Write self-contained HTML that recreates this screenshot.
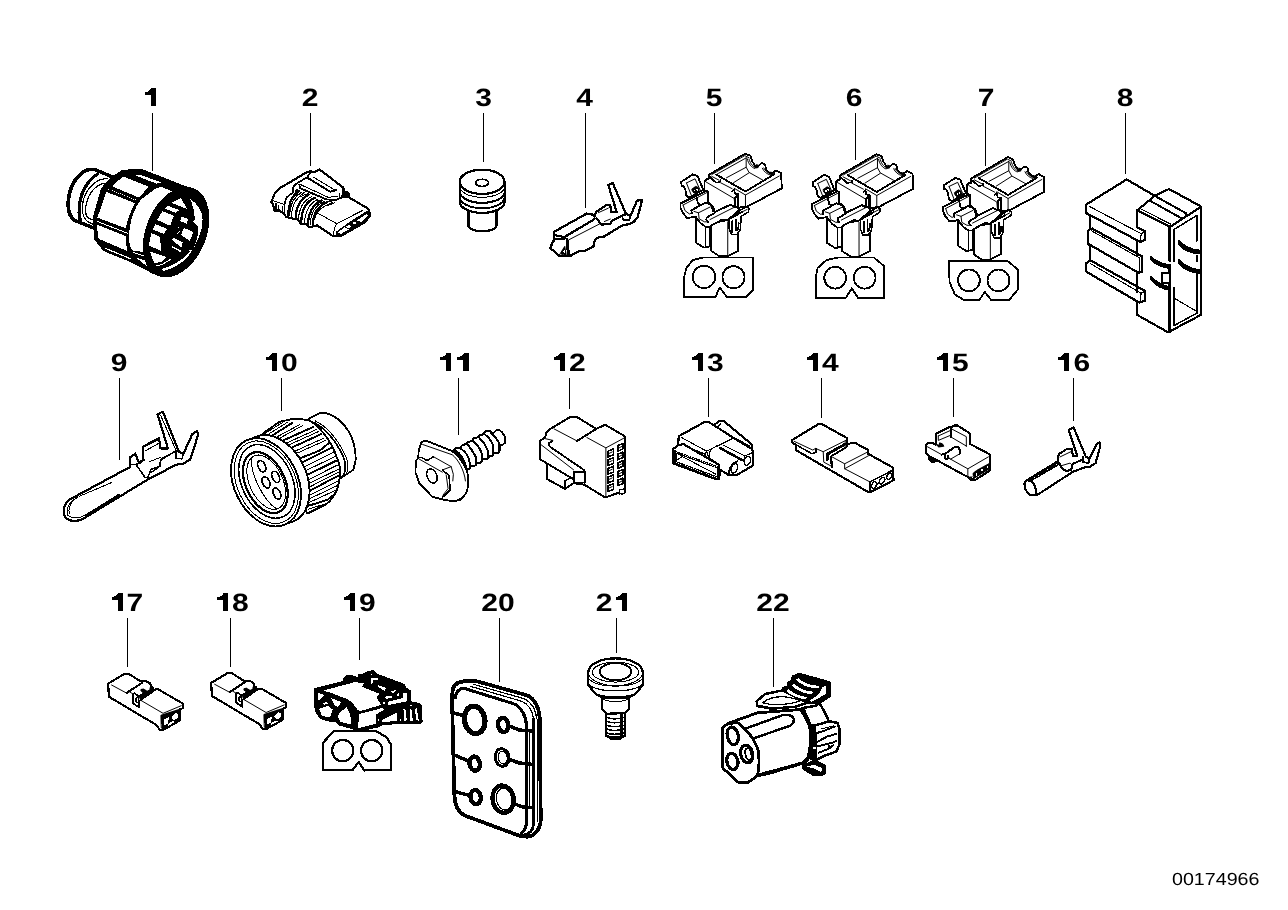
<!DOCTYPE html>
<html><head><meta charset="utf-8"><title>Diagram</title>
<style>
html,body{margin:0;padding:0;background:#fff;}
body{width:1288px;height:910px;overflow:hidden;font-family:"Liberation Sans",sans-serif;}
svg{display:block;will-change:transform;}
.k{fill:none;stroke:#000;stroke-linejoin:round;stroke-linecap:round;}
.w{fill:#fff;stroke:#000;stroke-linejoin:round;stroke-linecap:round;}
.b{fill:#000;stroke:#000;stroke-linejoin:round;stroke-linecap:round;}
.n{fill:#fff;stroke:none;}
text{font-family:"Liberation Sans",sans-serif;fill:#000;text-rendering:geometricPrecision;}
</style></head><body>
<svg width="1288" height="910" viewBox="0 0 1288 910" shape-rendering="crispEdges">
<rect width="1288" height="910" fill="#fff"/>
<g font-weight="bold" font-size="25" text-anchor="middle">
<text transform="translate(310,106) scale(1.2,1)">2</text>
<text transform="translate(483.5,106) scale(1.2,1)">3</text>
<text transform="translate(584.5,106) scale(1.2,1)">4</text>
<text transform="translate(714,106) scale(1.2,1)">5</text>
<text transform="translate(854,106) scale(1.2,1)">6</text>
<text transform="translate(986,106) scale(1.2,1)">7</text>
<text transform="translate(1125,106) scale(1.2,1)">8</text>
<text transform="translate(119,371) scale(1.2,1)">9</text>
<text transform="translate(289.34,371) scale(1.2,1)">0</text>
<text transform="translate(577.34,371) scale(1.2,1)">2</text>
<text transform="translate(715.34,371) scale(1.2,1)">3</text>
<text transform="translate(830.34,371) scale(1.2,1)">4</text>
<text transform="translate(960.34,371) scale(1.2,1)">5</text>
<text transform="translate(1081.84,371) scale(1.2,1)">6</text>
<text transform="translate(134.84,611) scale(1.2,1)">7</text>
<text transform="translate(240.34,611) scale(1.2,1)">8</text>
<text transform="translate(367.34,611) scale(1.2,1)">9</text>
<text transform="translate(498,611) scale(1.2,1)">20</text>
<text transform="translate(604.16,611) scale(1.2,1)">2</text>
<text transform="translate(773,611) scale(1.2,1)">22</text>
</g><g fill="#000"><path transform="translate(156.25,106.3)" d="M0,0H-5.1V-11.3H-11.1V-13.8C-8.5,-14.2 -5.8,-16 -4.4,-18.3H0Z"/><path transform="translate(277.2,371.3)" d="M0,0H-5.1V-11.3H-11.1V-13.8C-8.5,-14.2 -5.8,-16 -4.4,-18.3H0Z"/><path transform="translate(451.4,371.3)" d="M0,0H-5.1V-11.3H-11.1V-13.8C-8.5,-14.2 -5.8,-16 -4.4,-18.3H0Z"/><path transform="translate(468.5,371.3)" d="M0,0H-5.1V-11.3H-11.1V-13.8C-8.5,-14.2 -5.8,-16 -4.4,-18.3H0Z"/><path transform="translate(565.1,371.3)" d="M0,0H-5.1V-11.3H-11.1V-13.8C-8.5,-14.2 -5.8,-16 -4.4,-18.3H0Z"/><path transform="translate(702.8,371.3)" d="M0,0H-5.1V-11.3H-11.1V-13.8C-8.5,-14.2 -5.8,-16 -4.4,-18.3H0Z"/><path transform="translate(817.8,371.3)" d="M0,0H-5.1V-11.3H-11.1V-13.8C-8.5,-14.2 -5.8,-16 -4.4,-18.3H0Z"/><path transform="translate(947.8,371.3)" d="M0,0H-5.1V-11.3H-11.1V-13.8C-8.5,-14.2 -5.8,-16 -4.4,-18.3H0Z"/><path transform="translate(1069.2,371.3)" d="M0,0H-5.1V-11.3H-11.1V-13.8C-8.5,-14.2 -5.8,-16 -4.4,-18.3H0Z"/><path transform="translate(122.6,611.3)" d="M0,0H-5.1V-11.3H-11.1V-13.8C-8.5,-14.2 -5.8,-16 -4.4,-18.3H0Z"/><path transform="translate(228.4,611.3)" d="M0,0H-5.1V-11.3H-11.1V-13.8C-8.5,-14.2 -5.8,-16 -4.4,-18.3H0Z"/><path transform="translate(355.1,611.3)" d="M0,0H-5.1V-11.3H-11.1V-13.8C-8.5,-14.2 -5.8,-16 -4.4,-18.3H0Z"/><path transform="translate(627,611.3)" d="M0,0H-5.1V-11.3H-11.1V-13.8C-8.5,-14.2 -5.8,-16 -4.4,-18.3H0Z"/></g>
<g stroke="#000" stroke-width="1" fill="none">
<path d="M152.5 113V170.5"/>
<path d="M310.5 113V165.5"/>
<path d="M483.5 113V161.5"/>
<path d="M585.5 113V207.5"/>
<path d="M714.5 113V164"/>
<path d="M855.5 113V160"/>
<path d="M985.5 113V166"/>
<path d="M1125.5 113V173.5"/>
<path d="M119.5 378V459.5"/>
<path d="M281.5 378V411"/>
<path d="M458.5 378V435"/>
<path d="M569.5 378V408.5"/>
<path d="M708.5 378V416.5"/>
<path d="M821.5 378V417.5"/>
<path d="M953.5 378V417"/>
<path d="M1073.5 378V420.5"/>
<path d="M127.5 618V666.5"/>
<path d="M230.5 618V666.5"/>
<path d="M359.5 618V659.5"/>
<path d="M499.5 618V681.5"/>
<path d="M616.5 618V652.5"/>
<path d="M773.5 618V686.5"/>
</g>
<text x="1172" y="885" font-size="17.6" textLength="87.5" lengthAdjust="spacingAndGlyphs">00174966</text>
<g transform="translate(56,160) scale(0.12747)"><g stroke-width="23">
<!-- rear cap -->
<path class="w" stroke-width="27.6" d="M335,88 C300,66 255,70 215,92 C155,135 108,215 97,310 C90,390 105,450 150,475 L300,535 L460,300 L450,135 Z"/>
<path class="k" stroke-width="25.3" d="M325,112 C265,145 200,235 186,340 C178,400 180,440 190,470"/>
<path class="k" stroke-width="9.2" d="M405,148 C340,140 262,192 222,290 C196,370 202,452 250,485 L295,505"/>
<path class="k" stroke-width="9.2" d="M400,182 C340,178 276,232 246,312 C222,390 230,440 260,460 L290,470"/>
<!-- body silhouette black -->
<path class="b" d="M450,135 L520,92 L610,80 L680,85 L1100,250 L1000,400 L700,740 L770,885 L600,795 L380,705 L312,620 L300,450 L365,225 Z"/>
<!-- top sliver -->
<path class="n" d="M615,118 L660,116 L825,176 L790,186 Z"/>
<!-- hex faces -->
<path class="n" d="M527,130 L728,210 L650,295 L438,205 Z"/>
<path class="n" d="M395,250 L618,338 C585,400 560,470 545,535 L325,452 Z"/>
<path d="M412,228 L632,316" stroke="#fff" stroke-width="7.845" stroke-dasharray="8 8" fill="none"/>
<path class="n" d="M318,476 L565,572 L565,580 L318,484 Z"/>
<path class="n" d="M318,505 L548,598 C545,640 550,680 562,715 L335,618 Z"/>
<path class="n" d="M392,690 L590,772 L590,782 L385,697 Z"/>
<!-- band ring -->
<path class="n" d="M790,218 L830,212 L922,252 C830,320 745,440 712,590 C700,650 698,690 702,722 L605,712 C570,690 565,600 580,520 C595,440 620,370 665,312 Z"/>
<path class="n" d="M622,762 L700,790 L715,835 Z"/>
<path class="n" d="M605,722 L695,752 L695,758 L605,730 Z"/>
</g></g>
<g transform="translate(130,185) scale(0.10440)"><ellipse cx="442" cy="452" rx="290" ry="453" fill="#000" transform="rotate(22 442 452)"/>
<path class="n" d="M578,135 C640,170 695,250 695,330 C695,450 640,570 560,680 C500,750 400,810 320,822 L305,805 C400,780 500,720 575,640 L560,625 L600,620 C640,540 660,470 655,400 L600,350 L620,330 C620,260 600,190 578,135 Z"/>
<g>
<path class="n" d="M395,170 L490,125 L545,230 Z"/>
<path class="n" d="M335,225 L365,200 L470,240 L440,268 Z"/>
<path class="n" d="M260,335 L310,250 L420,295 L385,390 Z"/>
<path class="n" d="M215,425 L245,375 L355,420 L325,470 Z"/>
<path class="n" d="M180,580 L205,460 L290,500 L295,630 Z"/>
<path class="n" d="M190,635 L350,690 L300,740 L230,745 Z"/>
<path class="n" d="M480,345 L495,305 L555,325 L545,372 Z"/>
<path class="n" d="M490,480 L515,410 L605,450 L575,535 Z"/>
<path class="n" d="M400,525 L420,505 L505,550 L495,600 Z"/>
<path class="n" d="M400,585 L490,630 L482,642 L395,594 Z"/>
<path d="M245,772 L300,765 L390,712" stroke="#fff" stroke-width="9.579" fill="none"/>
<path d="M450,420 L480,400 M455,470 L475,440" stroke="#fff" stroke-width="9.579" stroke-dasharray="6 8" fill="none"/>
</g></g>
<g transform="translate(262,160) scale(0.09341)"><g stroke-width="23">
<path class="w" d="M100,450 L140,350 L200,295 L330,220 L480,130 L520,120 L560,130 L615,100 L870,295 L880,335 L925,350 L930,400 L1135,520 L1155,570 L1150,610 L1060,690 L850,810 L760,815 L590,700 L500,720 L480,690 L410,680 L390,640 L260,610 L240,585 L190,540 L130,540 L120,480 Z"/>
<path class="b" d="M880,335 L925,350 L930,400 L870,390 Z"/>
<!-- flange -->
<path class="k" stroke-width="10.71" d="M110,432 L240,478"/>
<path class="k" stroke-width="18.4" d="M240,585 L240,478 L262,400 L330,350 L335,290 L365,255 L480,188 L520,130"/>
<path class="k" stroke-width="13.8" d="M150,470 V535 M175,490 V530 M218,500 V555"/>
<!-- clip -->
<path class="k" stroke-width="20.7" d="M490,192 L730,340 L795,322"/>
<path class="k" stroke-width="10.71" d="M545,180 L775,318"/>
<path class="k" stroke-width="20.7" d="M870,300 L860,395 L795,428 L690,422 L405,300 L400,262"/>
<path class="k" stroke-width="10.71" d="M410,262 L705,398 L805,392"/>
<path class="k" stroke-width="11.5" d="M830,360 V410"/>
<!-- ribs -->
<g stroke-width="24.15" class="k">
<path d="M370,320 L370,370"/>
<path d="M395,330 C330,380 285,440 280,600"/>
<path d="M500,370 C420,410 365,480 360,625"/>
<path d="M565,405 C480,440 425,520 420,665"/>
<path d="M640,435 C550,475 495,550 490,700"/>
<path d="M700,452 C600,490 548,570 545,690"/>
</g>
<g stroke-width="11.5" class="k">
<path d="M450,350 C380,400 320,460 315,605"/>
<path d="M425,345 C355,390 300,450 297,600"/>
<path d="M535,390 C455,430 395,500 390,640"/>
<path d="M600,420 C515,460 460,535 455,680"/>
<path d="M670,445 C580,480 520,560 515,695"/>
<path d="M760,455 C650,495 575,560 565,625"/>
<path d="M700,452 L850,410"/>
</g>
<path class="k" stroke-width="11.5" stroke-dasharray="6 6" d="M400,395 L500,358 M590,440 L640,425 M700,490 L780,455"/>
<!-- body lines -->
<path class="k" stroke-width="10.71" d="M595,568 L800,682 L1082,537"/>
<path class="k" stroke-width="10.71" d="M800,682 C775,720 768,760 766,808"/>
<!-- front slot -->
<g transform="translate(685.3,428.3) scale(0.4707)">
<path fill="#000" d="M230,720 L560,480 L930,250 L990,290 L1000,400 L900,520 L790,590 L700,590 L700,630 L570,660 L570,720 L340,835 L150,835 L140,800 L225,800 Z"/>
<path class="n" d="M270,740 L420,620 L520,670 L330,775 Z"/>
<path class="n" d="M450,600 L520,570 L565,600 L540,640 L480,630 Z"/>
<path class="n" d="M615,500 H680 V540 L615,545 Z"/>
<path class="n" d="M700,465 L920,320 L960,360 L800,500 L760,480 Z"/>
</g>
</g></g>
<g transform="translate(430,155) scale(0.17857)"><g stroke-width="12.65">
<!-- part 3 -->
<path class="w" d="M215,300 V395 A78,32 0 0 0 372,395 V300 Z"/>
<path class="w" d="M167,150 V262 A125,62 0 0 0 418,262 V150 Z"/>
<path class="k" stroke-width="10.35" d="M167,236 A125,62 0 0 0 418,236"/>
<path class="k" stroke-width="5.75" d="M170,222 A125,62 0 0 0 415,222"/>
<path class="k" stroke-width="10.35" d="M167,205 A125,62 0 0 0 418,205"/>
<path class="k" stroke-width="5.75" d="M170,188 A125,62 0 0 0 415,188"/>
<path class="k" stroke-width="5.75" d="M172,172 A125,62 0 0 0 413,172"/>
<path class="k" stroke-width="5.75" d="M172,252 A125,62 0 0 0 413,252"/>
<ellipse class="w" cx="292" cy="150" rx="125" ry="68"/>
<ellipse class="w" stroke-width="9.2" cx="292" cy="156" rx="36" ry="20"/>
<!-- part 4 -->
<g transform="translate(644,140) scale(0.5539)" stroke-width="23">
<path class="w" d="M90,525 L420,340 L470,345 L500,370 L520,320 L625,250 L660,255 L670,325 H725 L640,50 L685,30 L820,345 L865,360 L930,210 L975,200 V230 L935,380 L900,420 L850,445 L780,460 L600,570 L540,580 L505,605 L490,670 L400,720 H340 L260,765 L150,770 L55,690 L75,630 L100,600 L90,570 Z"/>
<path class="k" d="M200,575 L500,395 M110,560 L200,578 M100,600 L200,592"/>
<path class="k" stroke-width="10.11" d="M240,605 L560,440 M540,330 L640,285 M600,420 L660,395"/>
<path class="k" stroke-width="29.9" d="M222,605 L238,760"/>
<path class="b" stroke-width="10.11" d="M155,742 L200,670 L215,760 Z"/>
<path class="n" d="M182,722 L198,702 L204,745 Z"/>
<path class="k" d="M520,385 L570,450 L660,445 L680,410 L780,360 L820,345"/>
<path class="k" stroke-width="18.4" d="M780,365 L790,402 L850,405 L865,360"/>
</g>
</g></g>
<g transform="translate(672,148) scale(0.12527)"><g id="cb" stroke-width="14.95">
<!-- legs -->
<path class="w" d="M190,540 V755 L255,795 L305,785 V600 Z"/>
<path class="k" stroke-width="9.2" d="M270,640 V788"/>
<path class="w" d="M312,600 V820 L380,865 L445,862 L530,820 V560 Z"/>
<path class="k" stroke-width="7.982" d="M445,590 V862"/>
<g transform="translate(31.93,159.64) scale(0.5966)" stroke-width="25.3">
<!-- tab -->
<path class="w" d="M70,185 L225,85 L290,110 L365,290 L180,395 L140,375 L125,290 L105,245 L75,235 Z"/>
<path class="k" stroke-width="13.38" d="M140,200 L255,145 L325,300 M140,200 L205,365"/>
<path class="b" stroke-width="13.38" d="M215,280 L265,245 L300,262 L312,320 L250,342 L225,320 Z"/>
<path class="n" d="M240,290 H260 V308 H240 Z M268,278 L285,270 L295,300 L280,305 Z"/>
<!-- channel -->
<path class="w" d="M60,475 L415,300 L425,320 V455 L470,490 L500,580 L520,590 L730,490 L780,500 L830,530 L850,560 L690,700 L620,690 L470,770 L450,790 L400,790 L330,740 L290,690 L265,650 L150,670 L90,600 L60,530 Z"/>
<path class="k" stroke-width="13.38" d="M95,495 L120,570 L180,615 L210,600 M95,495 L410,330 M240,580 L300,600 L460,520 M300,600 L310,680 L380,720 L430,720 M455,690 L780,525"/>
<path class="k" d="M210,608 L205,565 L290,520 L390,465 L470,490 M275,395 L295,478 L330,495"/>
<path class="k" d="M430,722 L405,692 L410,665 L520,600"/>
</g>
<!-- box -->
<path class="w" d="M292,215 L585,45 L625,62 L640,105 L665,145 L690,145 L715,120 L742,130 L752,172 L778,198 L800,200 L830,180 L872,202 L876,322 L600,468 L527,476 L527,368 L503,400 L503,470 L467,452 L342,512 L324,461 L312,452 L284,431 L284,345 L259,338 L259,270 L277,249 L292,249 Z"/>
<g transform="translate(255.4,15.96) scale(0.5613)" stroke-width="27.6">
<path class="k" d="M175,350 L590,590 L1000,345"/>
<path class="k" stroke-width="14.22" d="M175,350 L210,330 L600,112 M110,350 L580,80 L640,110 M600,112 V245 M320,395 L600,245 L640,318 L840,430 M420,465 L640,325"/>
<path class="k" stroke-width="14.22" d="M430,545 L590,640 L1070,370 M590,640 V800 M30,455 L430,690 L440,800 M235,465 L400,550 M110,375 L215,430"/>
<path class="k" stroke-width="14.22" d="M640,130 C660,200 700,240 740,250 M615,125 C630,200 680,250 720,262 M830,260 C850,310 900,345 940,355 M850,255 C870,300 910,330 950,340"/>
<path class="k" stroke-width="23" d="M85,385 L170,465 L235,450 V430"/>
<path class="k" stroke-width="25.3" d="M400,590 L430,565 L440,620 L490,640 V820"/>
<path class="b" stroke-width="14.22" d="M745,210 L775,215 L770,250 L730,255 Z M935,315 L975,320 L1000,350 L960,355 Z"/>
</g>
<!-- clip -->
<path class="w" stroke-width="12.65" d="M455,570 L540,500 L590,470 L615,480 L610,510 L552,545 L545,650 L520,690 L475,690 L455,640 Z"/>
<path class="k" stroke-width="14.95" d="M482,585 V668 M512,570 V655 C520,668 532,650 532,600 M470,560 L560,510"/>
<path class="k" stroke-width="7.982" d="M540,520 L600,490"/>
</g></g>
<g transform="translate(660,145) scale(0.17582)"><g stroke-width="10.35">
<path class="w" d="M135,865 V760 L150,700 L185,655 L245,640 H530 V825 L490,865 H380 L340,810 L315,865 Z"/>
<circle class="w" cx="250" cy="750" r="64"/>
<circle class="w" cx="418" cy="752" r="63"/>
</g></g>
<g transform="translate(803.3,148.5) scale(0.12527)"><use href="#cb"/></g>
<g transform="translate(800,145) scale(0.17582)"><g stroke-width="10.35">
<path class="w" d="M90,870 V750 L100,700 L150,655 L215,640 H420 L480,690 V870 H330 L295,815 L260,870 Z"/>
<circle class="w" cx="200" cy="755" r="62"/>
<circle class="w" cx="368" cy="755" r="62"/>
</g></g>
<g transform="translate(934.6,151.5) scale(0.12527)"><use href="#cb"/></g>
<g transform="translate(932,145) scale(0.17582)"><g stroke-width="10.35">
<path class="w" d="M95,660 H430 L490,710 V820 L440,880 H335 L300,835 L270,880 H180 L130,850 L100,780 Z"/>
<circle class="w" cx="210" cy="770" r="62"/>
<circle class="w" cx="378" cy="770" r="62"/>
</g></g>
<g transform="translate(1070,165) scale(0.19231)"><g stroke-width="11.5">
<path class="w" d="M85,205 L295,75 L440,160 L515,125 L680,215 V780 L510,870 L350,780 V710 L85,555 V510 L105,495 V420 L95,410 V340 L105,330 V265 L85,250 Z"/>
<!-- rib1 -->
<path class="k" d="M85,250 L365,400 L390,390 V345 L350,325"/>
<path class="k" stroke-width="5.75" d="M100,215 L370,357 L390,347 M370,357 L366,398"/>
<!-- rib2 -->
<path class="w" d="M95,340 L115,330 L375,475 V555 L355,560 L95,410 Z"/>
<path class="k" stroke-width="5.75" d="M112,342 L360,482 V555"/>
<!-- rib3 -->
<path class="w" d="M85,510 L105,495 L390,655 V705 L360,715 L85,555 Z"/>
<path class="k" stroke-width="5.75" d="M105,512 L370,667 L366,710 M370,667 L390,657"/>
<path class="k" d="M105,265 V330 M105,420 V495"/>
<!-- right block -->
<path class="k" d="M350,325 V235 L415,182 L440,160 M350,555 V660 M350,400 V470"/>
<path class="k" d="M350,235 L520,322 L680,218"/>
<path class="k" stroke-width="5.75" d="M362,225 L525,308"/>
<path class="k" stroke-width="10.35" d="M420,188 L585,280 L602,268 V250 L440,160"/>
<path class="k" stroke-width="5.75" d="M602,268 L665,228"/>
<path class="k" stroke-width="12.65" d="M518,322 V500 M518,545 V870"/>
<path class="k" stroke-width="8.05" d="M541,335 L660,262 V395 M660,470 V500 M660,570 V770 L541,835 V640 M541,335 V500"/>
<path class="k" stroke-width="5.75" d="M541,692 L660,762"/>
<!-- slots -->
<path class="b" stroke-width="6.9" d="M565,392 C590,420 630,440 680,445 V462 C625,462 580,435 565,410 Z"/>
<path class="b" stroke-width="6.9" d="M565,492 C590,520 630,540 680,548 V565 C625,560 580,535 565,510 Z"/>
<path class="b" stroke-width="6.9" d="M420,475 C445,500 480,515 522,520 V537 C480,535 440,515 420,492 Z"/>
<path class="b" stroke-width="6.9" d="M420,578 C445,605 480,625 522,635 V652 C480,645 440,622 420,596 Z"/>
<path class="w" stroke-width="9.2" d="M480,560 H520 V615 H480 Z"/>
</g></g>
<g transform="translate(50,395) scale(0.14835)"><g stroke-width="14.95">
<path class="w" d="M540,485 L540,420 L575,395 L600,458 L625,440 L625,350 L735,290 L745,360 L795,360 L725,130 L760,112 L870,385 L900,395 L960,262 L990,245 L1000,265 L945,435 L900,462 L850,470 L650,575 L230,830 C180,862 120,850 100,820 C82,770 100,720 150,695 Z"/>
<path class="k" stroke-width="6.741" d="M165,705 C125,725 108,770 118,812 C150,830 200,835 235,810 M200,682 L415,590 M185,690 C140,712 122,760 130,800"/>
<path class="k" stroke-width="18.4" d="M245,812 L465,675"/>
<path class="k" stroke-width="10.35" d="M545,470 L580,468 L600,458 M580,468 C600,500 625,530 640,555 L660,555 L682,500 L740,482 L745,440 L850,375 L870,385"/>
<path class="k" stroke-width="6.741" d="M640,378 L740,322 M610,460 L640,435 M670,450 L745,420"/>
<path class="k" stroke-width="9.2" stroke-dasharray="5 4" d="M752,430 L845,380 M640,345 L730,300 M685,520 L730,490"/>
<path class="k" stroke-width="10.35" d="M850,375 V428 L890,430 L900,395"/>
<path class="k" stroke-width="6.741" d="M745,135 L850,375"/>
</g></g>
<g transform="translate(220,400) scale(0.14835)"><g stroke-width="12.65">
<!-- rear cap -->
<path class="w" d="M600,125 L670,90 L720,90 C770,105 830,150 870,215 C900,270 915,340 915,400 L900,470 L800,535 L600,300 Z"/>
<path class="k" stroke-width="11.5" d="M610,142 C700,175 790,280 838,400 C850,450 848,500 815,528"/>
<path class="k" stroke-width="6.741" d="M640,140 C720,175 810,280 855,400 C865,440 862,480 850,505"/>
<!-- knurled ring -->
<path class="w" d="M290,225 L400,148 L500,125 L600,135 C700,200 770,310 808,450 C815,560 790,640 720,700 L590,765 L400,500 Z"/>
<g transform="translate(269.6,67.4) scale(0.815)">
<g class="k" stroke-width="16.1">
<path d="M100,212 L265,108"/><path d="M185,255 L440,140"/><path d="M265,310 L505,200"/>
<path d="M330,400 L495,335 L572,272"/><path d="M340,437 L590,312"/><path d="M385,540 L630,420"/>
<path d="M405,672 L650,542"/><path d="M402,792 L560,742 L612,700"/>
</g>
<g class="k" stroke-width="8.271">
<path d="M40,195 L200,95"/><path d="M70,200 L230,100"/><path d="M130,228 L330,120"/><path d="M150,240 L350,130"/>
<path d="M215,275 L470,160"/><path d="M235,290 L485,178"/><path d="M290,340 L530,232"/><path d="M300,360 L545,250"/>
<path d="M360,475 L610,350"/><path d="M372,505 L620,385"/><path d="M395,580 L640,455"/><path d="M400,610 L648,490"/><path d="M403,640 L650,515"/>
<path d="M408,705 L648,585"/><path d="M408,735 L640,625"/><path d="M405,765 L625,665"/><path d="M402,820 L560,770"/>
</g>
</g>
<!-- flange -->
<g transform="rotate(-25 310 555)">
<ellipse class="w" cx="372" cy="560" rx="215" ry="312"/>
<ellipse class="w" cx="310" cy="555" rx="215" ry="312"/>
<ellipse class="k" stroke-width="6.741" cx="312" cy="555" rx="196" ry="292"/>
<ellipse class="k" stroke-width="10.35" cx="318" cy="552" rx="170" ry="262"/>
<ellipse class="w" stroke-width="14.95" cx="305" cy="555" rx="132" ry="218"/>
<ellipse class="k" stroke-width="6.741" cx="312" cy="555" rx="112" ry="195"/>
<path class="k" stroke-width="6.741" d="M290,370 C240,450 240,660 300,748"/>
<ellipse class="w" stroke-width="11.5" cx="330" cy="445" rx="24" ry="40"/>
<ellipse class="w" stroke-width="11.5" cx="385" cy="550" rx="23" ry="40"/>
<ellipse class="w" stroke-width="11.5" cx="310" cy="555" rx="24" ry="40"/>
<ellipse class="w" stroke-width="11.5" cx="345" cy="655" rx="23" ry="40"/>
</g>
</g></g>
<g transform="translate(405,415) scale(0.10989)"><g stroke-width="16.1">
<!-- screw -->
<g transform="translate(318.5,45.5) scale(0.6)" stroke-width="29.9">
<path class="w" d="M215,455 L250,420 L305,420 L340,380 L395,365 L420,335 L480,320 L510,275 L570,265 L600,225 L650,220 L680,180 L720,160 L760,165 L780,195 L820,190 L850,160 L890,145 L940,185 L990,260 V340 L950,375 L910,385 L905,470 L875,500 H820 L810,525 L785,545 L745,548 L735,570 L705,595 L650,590 L640,615 L615,650 H555 L545,680 L520,700 H465 L455,735 L430,750 L395,745 L300,600 Z"/>
<g class="k">
<path d="M235,470 C300,500 380,590 400,740"/>
<path d="M310,430 C370,470 430,540 445,620 L460,700"/>
<path d="M420,370 C470,440 520,500 545,570 V650"/>
<path d="M500,320 C560,370 610,430 635,510 L640,590"/>
<path d="M590,265 C650,320 700,400 725,470 L730,560"/>
<path d="M680,220 C740,260 790,340 810,400 V510"/>
<path d="M775,195 C830,250 880,310 895,350 V480"/>
</g>
<path class="b" stroke-width="15.17" d="M120,460 L215,455 L300,540 L380,660 L395,740 L340,620 L250,530 Z"/>
</g>
<!-- washer -->
<path class="w" d="M150,245 L190,232 L420,325 C470,350 530,430 560,500 C580,560 585,640 560,700 C540,745 500,780 440,785 L350,770 L250,745 L130,620 L95,520 L100,420 L120,390 L125,320 Z"/>
<path class="k" stroke-width="9.1" d="M160,268 L430,362 C480,400 540,500 550,600"/>
<path class="k" stroke-width="13.8" d="M120,390 L150,385 L200,415 L260,380"/>
<path class="k" stroke-width="9.1" d="M260,380 L420,470 L440,540 L435,600"/>
<path class="k" stroke-width="9.1" d="M130,402 L340,520"/>
<path class="k" stroke-width="13.8" d="M340,500 L400,550 L412,680 L340,748"/>
<path class="k" stroke-width="9.1" d="M340,500 L420,470 M375,545 L392,670 L345,730"/>
<path class="k" stroke-width="13.8" d="M340,748 C380,720 400,700 412,680"/>
<ellipse class="w" stroke-width="13.8" cx="245" cy="555" rx="44" ry="68" transform="rotate(-22 245 555)"/>
<path class="k" stroke-width="11.5" stroke-dasharray="14 8" d="M570,590 C580,660 550,740 500,775"/>
</g></g>
<g transform="translate(528,400) scale(0.11538)"><g stroke-width="17.25">
<path class="w" d="M100,360 L150,320 L160,280 L195,250 L370,145 L420,145 L590,250 L670,215 L840,315 L845,800 L815,815 L795,800 L670,845 L490,735 L395,720 L320,770 L165,685 V550 L100,510 Z"/>
<path class="k" d="M425,355 L590,252"/>
<path class="k" stroke-width="8.667" d="M225,250 L425,355 M510,325 L675,415 L832,330 M675,415 V845 M110,385 L395,605 M150,335 L215,350"/>
<path class="k" stroke-width="16.1" d="M212,355 L180,375 L187,402 L490,610 V735"/>
<path class="w" d="M395,620 H490 V715 H395 Z"/>
<path class="k" d="M165,550 L385,682"/>
<path class="k" stroke-width="10.35" d="M320,700 L388,668 M320,700 V770"/>
<path class="w" stroke-width="10.35" d="M795,778 L835,770 V808 L795,815 Z"/>
<path class="k" stroke-width="13.8" d="M692,444 L742,424 V474 L692,494 Z"/><path class="k" stroke-width="8.667" d="M705,462 L730,450"/>
<path class="k" stroke-width="13.8" d="M778,395 L822,377 V425 L778,443 Z"/><path class="k" stroke-width="8.667" d="M790,415 L812,403"/>
<path class="k" stroke-width="13.8" d="M692,519 L742,499 V549 L692,569 Z"/><path class="k" stroke-width="8.667" d="M705,537 L730,525"/>
<path class="k" stroke-width="13.8" d="M778,470 L822,452 V500 L778,518 Z"/><path class="k" stroke-width="8.667" d="M790,490 L812,478"/>
<path class="k" stroke-width="13.8" d="M692,594 L742,574 V624 L692,644 Z"/><path class="k" stroke-width="8.667" d="M705,612 L730,600"/>
<path class="k" stroke-width="13.8" d="M778,545 L822,527 V575 L778,593 Z"/><path class="k" stroke-width="8.667" d="M790,565 L812,553"/>
<path class="k" stroke-width="13.8" d="M692,669 L742,649 V699 L692,719 Z"/><path class="k" stroke-width="8.667" d="M705,687 L730,675"/>
<path class="k" stroke-width="13.8" d="M778,620 L822,602 V650 L778,668 Z"/><path class="k" stroke-width="8.667" d="M790,640 L812,628"/>
<path class="k" stroke-width="13.8" d="M692,744 L742,724 V774 L692,794 Z"/><path class="k" stroke-width="8.667" d="M705,762 L730,750"/>
<path class="k" stroke-width="13.8" d="M778,695 L822,677 V725 L778,743 Z"/><path class="k" stroke-width="8.667" d="M790,715 L812,703"/>
</g></g>
<g transform="translate(660,405) scale(0.09341)"><g stroke-width="23">
<path class="w" d="M135,475 L195,430 L200,335 L480,180 L515,180 L575,215 L640,170 L680,170 L980,420 L985,480 L1000,490 V645 L820,750 H735 L640,690 L635,795 H600 L140,625 Z"/>
<path class="k" d="M575,215 L775,345 L975,465"/>
<path class="k" stroke-width="10.71" d="M225,345 L500,495 L600,445 M800,350 L960,440 M620,235 L650,200"/>
<path class="k" stroke-width="16.1" d="M600,445 L765,365"/>
<path class="k" d="M200,430 L250,418 L630,640 V790"/>
<path class="k" stroke-width="26.45" d="M165,505 L620,668 V780 L165,612 Z"/>
<path d="M175,505 L615,665 M175,615 L615,782" stroke="#fff" stroke-width="10.71" stroke-dasharray="10 14" fill="none"/>
<path class="k" stroke-width="10.71" d="M178,590 L240,552 L600,742 M240,552 L200,522 M150,480 L180,495"/>
<path class="k" stroke-width="16.1" d="M400,495 L480,525 L500,495 M480,525 V560"/>
<path class="k" stroke-width="10.71" d="M500,495 L520,560 L640,640 M548,480 C530,500 522,530 525,555"/>
<path class="k" stroke-width="27.6" d="M645,462 L880,590"/>
<path class="k" stroke-width="10.71" d="M680,432 L910,547 L985,512 M910,547 L890,600"/>
<path class="k" stroke-width="18.4" d="M740,750 C730,690 760,630 830,600"/>
<ellipse class="w" stroke-width="16.1" cx="795" cy="678" rx="32" ry="52" transform="rotate(22 795 678)"/>
<ellipse class="w" stroke-width="13.8" cx="935" cy="598" rx="32" ry="48" transform="rotate(22 935 598)"/>
</g></g>
<g transform="translate(782,405) scale(0.10989)"><g stroke-width="19.55">
<path class="w" d="M90,320 L330,175 H365 L590,300 V365 L630,345 H665 L785,410 V445 L1010,570 L1015,685 L800,795 L780,790 L125,410 V360 L90,340 Z"/>
<path class="k" stroke-width="9.1" d="M110,330 L280,410 L305,395 L375,425 L585,320"/>
<path class="k" stroke-width="13.8" d="M125,360 L270,442 L310,430 V400"/>
<path class="k" stroke-width="9.1" d="M375,425 L380,520 L455,560"/>
<path class="k" stroke-width="25.3" d="M412,500 V448 L570,358"/>
<path class="k" stroke-width="16.1" d="M445,530 V475 M455,565 V515"/>
<path class="k" stroke-width="9.1" d="M440,470 L580,392 M575,330 V380"/>
<path class="k" stroke-width="16.1" d="M455,462 L590,382"/>
<path class="k" stroke-width="9.1" d="M455,472 L570,535 L775,430 M570,535 V580 L800,700 M570,580 L790,460"/>
<path class="k" stroke-width="13.8" d="M800,700 L1010,592 M800,700 V795"/>
<ellipse class="w" stroke-width="12.65" cx="838" cy="728" rx="20" ry="32" transform="rotate(28 838 728)"/>
<ellipse class="w" stroke-width="12.65" cx="910" cy="688" rx="20" ry="32" transform="rotate(28 910 688)"/>
<ellipse class="w" stroke-width="12.65" cx="976" cy="648" rx="20" ry="32" transform="rotate(28 976 648)"/>
<path class="k" stroke-width="9.2" d="M860,735 L885,700 M930,695 L955,662"/>
</g></g>
<g transform="translate(915,405) scale(0.15528)"><g stroke-width="12.65">
<!-- 15 -->
<g transform="translate(32.2,83.7) scale(0.4813)" stroke-width="27.6">
<path class="w" d="M75,370 L110,335 L160,330 L210,355 V215 L400,120 H430 L460,100 H500 L675,210 V350 L940,490 V700 L730,835 H680 L640,790 L245,575 L200,582 H150 L125,550 V510 L75,470 Z"/>
<path class="k" stroke-width="13.38" d="M100,385 L290,490 M390,540 L640,680 L915,520 M640,680 V790 M245,240 L400,170 M245,240 V300 L400,235 M430,150 L620,250 V380 M415,255 L620,375"/>
<path class="k" d="M415,125 V255 M125,510 L245,575"/>
<path class="b" stroke-width="13.38" d="M215,355 L250,388 L320,378 L300,345 L260,332 L262,360 Z"/>
<path class="k" d="M290,490 L350,470 L470,385 L520,395 L540,450 L530,480"/>
<path class="k" stroke-width="13.38" d="M530,480 L410,550 L385,530"/>
<path class="k" stroke-width="23" d="M350,470 L335,500 L340,550 H370 L375,500"/>
<ellipse class="w" stroke-width="13.8" cx="160" cy="548" rx="16" ry="14"/>
<path class="b" stroke-width="13.38" d="M715,735 L760,700 L925,610 L930,680 L735,800 L715,770 Z"/>
<path class="b" stroke-width="13.38" d="M665,790 H735 L725,815 H685 Z"/>
<path class="n" d="M745,745 L770,725 L760,770 L745,775 Z M820,690 L845,675 L850,700 L825,715 Z M890,655 L915,640 V665 L895,675 Z M690,795 H715 L705,808 H695 Z"/>
</g>
<!-- 16 -->
<g transform="translate(676.2,96.6) scale(0.5662)" stroke-width="24.15">
<path class="w" d="M50,720 L70,690 L430,470 L440,390 L540,325 L590,330 L600,405 H650 L555,115 L610,85 L750,420 L790,435 L870,275 L905,255 L915,290 L860,490 L790,535 L730,540 L600,590 L200,850 L110,855 L60,790 Z"/>
<path class="k" stroke-width="41.4" d="M105,688 L440,492"/>
<path d="M110,690 L440,492" stroke="#fff" stroke-width="11.37" stroke-dasharray="8 50" fill="none"/>
<path class="k" d="M120,690 C170,730 190,790 180,850"/>
<path class="k" d="M440,480 L470,540 L520,580 L580,570 L600,500 L710,450"/>
<path class="k" stroke-width="11.37" d="M470,520 L570,490 L590,510 M455,420 L580,360"/>
<path class="k" stroke-width="20.7" d="M715,420 L720,480 L780,490 L790,435"/>
</g>
</g></g>
<g transform="translate(95,655) scale(0.15916)"><g id="p17" transform="translate(31.4,81.7) scale(0.4556)" stroke-width="28.75">
<path class="w" d="M115,215 L340,80 H395 L560,185 H640 L695,215 L700,265 L725,270 V310 L760,295 H805 L1140,490 V555 L1100,570 V725 L880,850 H820 L790,800 L760,775 L120,395 Z"/>
<path class="k" stroke-width="13.79" d="M160,235 L365,345 M400,325 L460,360 M570,450 L870,625 L1120,520"/>
<path class="k" d="M365,345 L580,205"/>
<path class="k" stroke-width="25.3" d="M460,360 V490 L540,545 L545,450 M480,350 L530,392 L600,350"/>
<path class="b" stroke-width="13.79" d="M570,295 L600,290 L650,320 L690,300 V270 L722,290 L725,330 L560,440 L545,400 L590,370 V330 L570,320 Z"/>
<path class="w" stroke-width="16.1" d="M497,412 H535 L530,470 H497 Z"/>
<path class="k" d="M560,440 L760,300"/>
<path class="b" stroke-width="13.79" d="M845,650 L1095,570 L1100,725 L880,850 L850,830 Z"/>
<path class="n" d="M885,712 L960,672 L930,770 L885,790 Z"/>
<path class="n" d="M985,680 L1045,620 L1075,640 V690 L1020,720 Z"/>
<path class="n" d="M945,765 L1000,735 L1040,742 L935,800 Z"/>
</g></g>
<g transform="translate(198,654.2) scale(0.15916)"><use href="#p17"/></g>
<g transform="translate(300,650) scale(0.14835)"><g stroke-width="14.95">
<path class="w" d="M155,810 V625 L230,545 H510 L585,590 L615,640 V810 H440 L435,815 L395,755 L355,810 Z"/>
<circle class="w" cx="288" cy="678" r="72"/>
<circle class="w" cx="483" cy="678" r="72"/>
</g></g>
<g transform="translate(308,664) scale(0.09317)"><path fill="#000" d="M65,260 L370,185 L385,140 L410,120 L480,120 L535,145 L540,110 L600,100 L640,75 L710,65 L730,100 L1040,215 L1055,255 L1100,280 L1105,400 L1200,420 L1220,440 L1230,620 L1210,645 L1080,640 L800,655 L760,680 L530,730 L480,700 L330,660 L300,625 L230,620 L130,590 L85,530 L65,460 Z"/>
<g class="n">
<path d="M165,285 L500,195 L600,205 L580,245 L770,320 L735,355 L785,440 L560,505 L530,490 C500,440 470,405 430,380 L260,315 Z"/>
<path d="M545,538 L800,472 L815,492 L735,540 V640 L540,690 Z"/>
<path d="M105,310 L180,335 L130,385 H105 Z"/>
<path d="M245,365 L360,410 L320,460 L290,450 Z"/>
<path d="M120,480 L215,450 L265,490 L235,575 L150,555 Z"/>
<path d="M165,420 L205,400 L212,425 L170,440 Z"/>
<path d="M345,515 L415,465 C440,500 455,540 460,580 L465,650 L345,620 L320,565 Z"/>
<path d="M680,155 L750,150 V170 L700,175 L690,210 H675 Z"/>
<path d="M750,225 L835,255 L825,290 L755,245 Z"/>
<path d="M890,295 L945,280 L915,320 Z"/>
<path d="M955,320 L975,310 V340 H955 Z"/>
<path d="M815,350 L900,345 V360 L840,375 Z"/>
<path d="M1020,310 H1065 V400 L860,440 L855,405 L1020,365 Z"/>
<path d="M795,600 L955,520 L960,610 L800,625 Z"/>
<path d="M1025,485 H1045 L1060,605 L1030,610 Z"/>
<path d="M1090,485 H1110 L1125,610 H1095 Z"/>
<path d="M1150,490 L1165,470 L1190,610 L1160,600 Z"/>
<path d="M675,105 H690 V120 H675 Z M1100,435 H1115 V450 H1100 Z M750,590 H765 V610 H750 Z M985,590 H1000 V610 H985 Z M810,405 H825 V430 H810 Z"/>
</g></g>
<g transform="translate(432,665) scale(0.20330)"><g stroke-width="18.4">
<path class="w" d="M100,140 C100,100 125,82 160,80 L220,80 L470,150 C500,165 525,200 530,260 L535,760 C535,800 510,840 470,845 L430,840 L160,740 C130,725 112,690 110,640 L100,230 Z"/>
<path class="k" stroke-width="14.95" d="M115,160 C118,125 140,112 165,117 L400,190 C440,205 462,250 465,300 L465,770 C465,800 455,815 440,825"/>
<path class="k" stroke-width="5.75" d="M205,95 L450,165 C485,180 510,215 515,265 M190,105 L440,178 C475,192 495,225 500,270"/>
<path class="k" stroke-width="13.8" d="M500,265 V780 C498,810 480,830 455,835"/>
<path class="k" stroke-width="5.75" d="M520,270 V770 M480,330 V690"/>
<path class="k" stroke-width="17.25" d="M105,235 L155,250 M380,300 L430,320 L500,325 M380,465 L430,482 L500,490 M115,445 L185,475 M110,622 L185,642 M400,680 L440,697 L500,702"/>
<ellipse class="w" stroke-width="25.3" cx="210" cy="270" rx="50" ry="68" transform="rotate(-10 210 270)"/>
<ellipse class="w" stroke-width="21.85" cx="350" cy="295" rx="25" ry="35" transform="rotate(-10 350 295)"/>
<ellipse class="w" stroke-width="13.8" cx="345" cy="455" rx="34" ry="44" transform="rotate(-10 345 455)"/>
<ellipse class="k" stroke-width="5.75" cx="348" cy="455" rx="22" ry="32" transform="rotate(-10 348 455)"/>
<ellipse class="w" stroke-width="21.85" cx="210" cy="485" rx="25" ry="35" transform="rotate(-10 210 485)"/>
<ellipse class="w" stroke-width="21.85" cx="215" cy="650" rx="25" ry="35" transform="rotate(-10 215 650)"/>
<ellipse class="w" stroke-width="20.7" cx="350" cy="660" rx="52" ry="68" transform="rotate(-10 350 660)"/>
<ellipse class="k" stroke-width="5.75" cx="355" cy="660" rx="38" ry="54" transform="rotate(-10 355 660)"/>
</g></g>
<g transform="translate(572,640) scale(0.12088)"><g stroke-width="18.4">
<!-- thread -->
<path class="w" d="M280,600 V790 L320,815 H400 L440,790 V600 Z"/>
<g class="k" stroke-width="12.65">
<path d="M285,640 C320,655 380,655 435,640"/><path d="M285,672 C320,687 380,687 435,672"/><path d="M285,704 C320,719 380,719 435,704"/>
<path d="M285,736 C320,751 380,751 435,736"/><path d="M285,768 C320,783 380,783 435,768"/><path d="M300,795 C330,805 380,805 420,795"/>
</g>
<path class="k" stroke-width="25.3" d="M408,620 V800"/>
<!-- neck -->
<path class="w" d="M250,470 V575 L285,610 L440,605 L470,575 V470 Z"/>
<path class="k" stroke-width="8.273" d="M255,490 C300,515 420,515 465,490"/>
<!-- head -->
<path class="w" d="M135,265 V375 L200,450 L250,475 H470 L520,450 L585,375 V265 Z"/>
<path class="k" stroke-width="16.1" d="M200,450 C280,480 440,480 520,450"/>
<path class="k" stroke-width="8.273" d="M140,365 C200,440 520,440 580,365 M145,325 C210,400 510,400 575,325"/>
<ellipse class="w" stroke-width="8.273" cx="360" cy="265" rx="225" ry="113"/>
<path class="k" d="M135,285 V265 A225,113 0 0 1 585,265 V285"/>
<ellipse class="k" stroke-width="8.273" cx="360" cy="266" rx="192" ry="82"/>
<ellipse class="k" stroke-width="16.1" cx="360" cy="262" rx="130" ry="72"/>
</g></g>
<g transform="translate(708,665) scale(0.16484)"><g stroke-width="17.25">
<!-- body -->
<path class="w" d="M120,355 L300,290 L560,270 C600,320 635,400 640,470 L630,540 L590,592 L380,655 L300,672 L200,500 Z"/>
<path class="w" stroke-width="14.95" d="M230,385 L450,305 C510,292 545,330 500,368 L285,442 L240,440 L220,400 Z"/>
<!-- front face -->
<path class="w" d="M90,380 L120,355 L180,350 L215,380 C260,420 290,470 305,520 C312,570 310,630 300,672 L240,715 L180,710 L90,625 Z"/>
<ellipse class="w" stroke-width="19.55" cx="150" cy="430" rx="33" ry="54" transform="rotate(-12 150 430)"/>
<ellipse class="w" stroke-width="19.55" cx="235" cy="540" rx="36" ry="54" transform="rotate(-12 235 540)"/>
<ellipse class="k" stroke-width="11.5" cx="245" cy="540" rx="18" ry="36" transform="rotate(-12 245 540)"/>
<ellipse class="w" stroke-width="19.55" cx="148" cy="585" rx="33" ry="50" transform="rotate(-12 148 585)"/>
</g></g>
<g transform="translate(750,668) scale(0.12088)"><g stroke-width="20.7">
<!-- neck -->
<path class="w" d="M440,330 L545,312 L575,290 L625,380 L655,445 L535,475 L500,475 Z"/>
<!-- rear block -->
<path class="w" d="M520,480 L660,440 L725,455 L740,500 V630 L715,690 L620,725 L540,765 L495,745 L500,600 Z"/>
<path class="b" stroke-width="8.273" d="M505,490 L545,480 L550,745 L540,760 L500,745 Z"/>
<path class="n" d="M520,655 H545 V670 H520 Z M535,528 H550 V542 H535 Z"/>
<path class="k" stroke-width="16.1" d="M545,540 L600,524 L702,484 M555,612 L640,566 L712,546 M560,648 L640,628 L690,616 L712,602 M650,640 V662 M570,700 L650,668 L690,640"/>
<path class="k" stroke-width="8.273" d="M590,505 L692,478"/>
<!-- tab -->
<path class="b" d="M440,810 L520,775 L540,770 L620,810 V870 L590,885 L520,880 L440,830 Z"/>
<path class="n" d="M470,815 L530,800 L600,830 L590,860 L540,835 Z"/>
<!-- body bottom edge + right edge -->
<path class="k" stroke-width="27.6" d="M432,335 C465,385 492,445 500,520 C505,600 500,680 482,742"/>
<path class="k" stroke-width="27.6" d="M60,888 L200,852 L440,785 L485,742"/>
<path class="n" d="M245,855 L305,840 L295,858 L250,862 Z"/>
<!-- flap -->
<path class="w" d="M55,275 L125,215 L270,185 L430,265 L480,285 L380,320 L180,337 L60,315 Z"/>
<path class="k" stroke-width="10.35" d="M105,287 C170,237 270,215 420,270 C330,305 200,317 105,287 Z"/>
<path class="k" stroke-width="8.273" d="M85,310 L180,330 L380,316"/>
<!-- clip -->
<path class="b" d="M270,185 L275,165 L320,150 V120 L350,105 L355,70 L410,50 L660,120 V230 L575,290 L480,285 L430,265 Z"/>
<path class="n" d="M380,95 L400,85 C450,130 520,150 570,145 V165 C500,170 430,150 380,95 Z"/>
<path class="n" d="M345,145 L365,130 C410,175 470,195 520,195 L515,215 C450,215 390,190 345,145 Z"/>
<path class="n" d="M300,190 L320,175 C360,215 420,235 470,240 L465,258 C400,255 340,230 300,190 Z"/>
<path class="n" d="M600,155 L630,150 V215 L510,280 L495,265 C550,240 590,200 600,155 Z"/>
</g></g>
</svg>
</body></html>
